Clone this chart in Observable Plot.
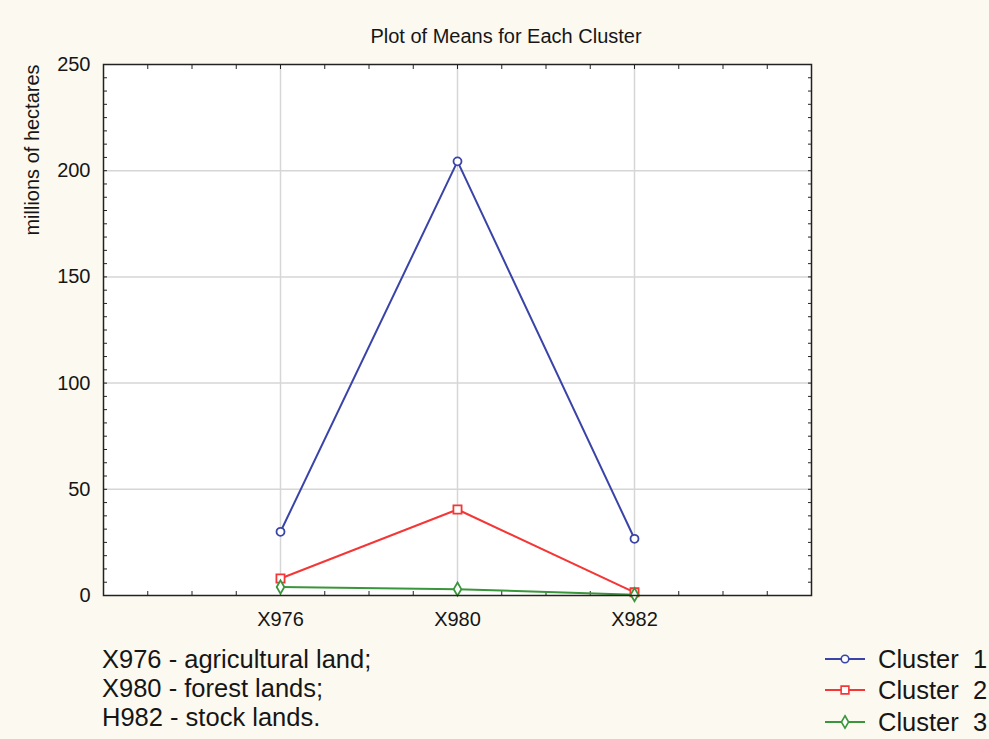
<!DOCTYPE html>
<html>
<head>
<meta charset="utf-8">
<script src="https://cdn.jsdelivr.net/npm/d3@7"></script>
<script src="https://cdn.jsdelivr.net/npm/@observablehq/plot@0.6"></script>
<style>
  body { margin: 0; background: #fcf9f1; }
  #wrap { position: relative; width: 989px; height: 739px; background: #fcf9f1; font-family: "Liberation Sans", Arial, sans-serif; color: #161616; }
  #wrap > svg.overlay { position: absolute; left: 0; top: 0; }
  #plot { position: absolute; left: 0; top: 0; }
</style>
</head>
<body>
<div id="wrap"><div id="plot"></div></div>
<script>
// ---- data ----
const categories = ["X976", "X980", "X982"];
const cluster1 = [30, 204.4, 26.7];
const cluster2 = [8, 40.5, 1.5];
const cluster3 = [4, 3, 0.4];
const seriesNames = ["Cluster  1", "Cluster  2", "Cluster  3"];
const seriesColors = ["#3a44a8", "#f43636", "#3a963a"];
const seriesSymbols = ["circle", "square", "diamond"];
const yTicks = [0, 50, 100, 150, 200, 250];
const notes = ["X976 - agricultural land;", "X980 - forest lands;", "H982 - stock lands."];
const title = "Plot of Means for Each Cluster";
const yLabel = "millions of hectares";

const seriesValues = [cluster1, cluster2, cluster3];
const rows = [];
seriesValues.forEach((vals, s) => {
  vals.forEach((v, i) => rows.push({series: seriesNames[s], cat: categories[i], pos: i + 1, value: v}));
});

const minorX = d3.range(0.25, 4, 0.25);
const minorY = d3.range(6.25, 250, 6.25);
const font = "Liberation Sans, Arial, sans-serif";
const ink = "#161616";

const chart = Plot.plot({
  width: 989,
  height: 739,
  marginLeft: 103,
  marginRight: 178,
  marginTop: 64,
  marginBottom: 144,
  style: {background: "transparent", fontFamily: font, fontSize: "20px", color: ink},
  x: {domain: [0, 4]},
  y: {domain: [0, 250]},
  color: {domain: seriesNames, range: seriesColors},
  marks: [
    Plot.frame({fill: "white", stroke: null}),
    Plot.ruleX(categories.map((c, i) => i + 1), {stroke: "#d6d6d6", strokeWidth: 1.5}),
    Plot.ruleY(yTicks.slice(1, -1), {stroke: "#d6d6d6", strokeWidth: 1.5}),
    Plot.axisX(minorX, {anchor: "top", tickSize: -4, tickFormat: () => "", label: null, stroke: "#222"}),
    Plot.axisX(minorX, {anchor: "bottom", tickSize: -4, tickFormat: () => "", label: null, stroke: "#222"}),
    Plot.axisY(minorY, {anchor: "left", tickSize: -4, tickFormat: () => "", label: null, stroke: "#222"}),
    Plot.axisY(minorY, {anchor: "right", tickSize: -4, tickFormat: () => "", label: null, stroke: "#222"}),
    Plot.axisX(categories.map((c, i) => i + 1), {anchor: "bottom", tickSize: 0, tickPadding: 16, tickFormat: i => categories[i - 1], label: null, fontSize: 20, fill: ink}),
    Plot.axisY(yTicks, {anchor: "left", tickSize: 0, tickPadding: 13, label: null, fontSize: 20, fill: ink}),
    Plot.line(rows, {x: "pos", y: "value", z: "series", stroke: "series", strokeWidth: 2}),
    ...seriesNames.map((name, s) => Plot.dot(rows.filter(d => d.series === name), {
      x: "pos", y: "value", stroke: "series", fill: "white", strokeWidth: 1.8,
      symbol: seriesSymbols[s], r: s === 1 ? 4.6 : 4
    })),
    Plot.frame({stroke: "#222", strokeWidth: 1.5})
  ]
});
document.getElementById("plot").appendChild(chart);

// ---- overlay text: title, y label, notes, legend ----
const svg = d3.select("#wrap").append("svg").attr("class", "overlay")
  .attr("width", 989).attr("height", 739).style("font-family", font);

svg.append("text").attr("x", 506).attr("y", 43).attr("text-anchor", "middle")
  .attr("font-size", 20).attr("fill", ink).text(title);

svg.append("text").attr("transform", "translate(39,150) rotate(-90)").attr("text-anchor", "middle")
  .attr("font-size", 20).attr("fill", ink).text(yLabel);

const noteBase = [668, 697, 726];
notes.forEach((t, i) => {
  svg.append("text").attr("x", 102).attr("y", noteBase[i]).attr("font-size", 25.5)
    .attr("fill", ink).text(t);
});

const legCenter = [659, 690, 722];
seriesNames.forEach((name, i) => {
  const g = svg.append("g").attr("transform", `translate(0,${legCenter[i]})`);
  g.append("line").attr("x1", 825).attr("x2", 865).attr("y1", 0).attr("y2", 0)
    .attr("stroke", seriesColors[i]).attr("stroke-width", 2);
  const sym = {circle: d3.symbolCircle, square: d3.symbolSquare, diamond: d3.symbolDiamond}[seriesSymbols[i]];
  g.append("path").attr("d", d3.symbol(sym, i === 1 ? 60 : 45)()).attr("transform", "translate(845,0)")
    .attr("fill", "white").attr("stroke", seriesColors[i]).attr("stroke-width", 1.6);
  g.append("text").attr("x", 878).attr("y", 9).attr("font-size", 25.5).attr("fill", ink)
    .attr("xml:space", "preserve").style("white-space", "pre").text(name);
});
</script>
</body>
</html>
